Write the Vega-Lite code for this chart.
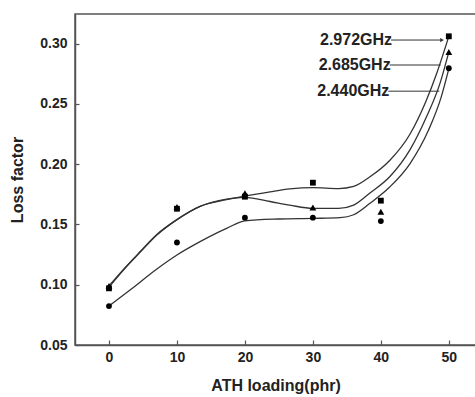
{
  "$schema": "https://vega.github.io/schema/vega-lite/v6.json",
  "width": 401,
  "height": 331,
  "autosize": {"type": "none"},
  "padding": {"left": 75, "top": 14, "right": 0, "bottom": 52},
  "background": "white",
  "config": {
    "view": {"stroke": "#555", "strokeWidth": 1.5},
    "axis": {
      "grid": false,
      "labelFont": "Liberation Sans",
      "labelFontWeight": "bold",
      "labelFontSize": 14,
      "labelColor": "#222",
      "titleFont": "Liberation Sans",
      "titleFontWeight": "bold",
      "titleFontSize": 16,
      "titleColor": "#222",
      "domainColor": "#555",
      "domainWidth": 1.5,
      "tickColor": "#555",
      "tickWidth": 1.2
    }
  },
  "datasets": {
    "curves": [
      {"series": "2.972GHz", "x": 0, "y": 0.098},
      {"series": "2.972GHz", "x": 2.1, "y": 0.112},
      {"series": "2.972GHz", "x": 4.6, "y": 0.127},
      {"series": "2.972GHz", "x": 7, "y": 0.141},
      {"series": "2.972GHz", "x": 10, "y": 0.154},
      {"series": "2.972GHz", "x": 13.4, "y": 0.165},
      {"series": "2.972GHz", "x": 17.3, "y": 0.1705},
      {"series": "2.972GHz", "x": 20, "y": 0.1735},
      {"series": "2.972GHz", "x": 23.7, "y": 0.177},
      {"series": "2.972GHz", "x": 26.6, "y": 0.1794},
      {"series": "2.972GHz", "x": 30, "y": 0.1805},
      {"series": "2.972GHz", "x": 33.8, "y": 0.1797},
      {"series": "2.972GHz", "x": 36, "y": 0.1815},
      {"series": "2.972GHz", "x": 38.4, "y": 0.1895},
      {"series": "2.972GHz", "x": 41.3, "y": 0.203},
      {"series": "2.972GHz", "x": 44.3, "y": 0.225},
      {"series": "2.972GHz", "x": 46.7, "y": 0.253},
      {"series": "2.972GHz", "x": 48.2, "y": 0.275},
      {"series": "2.972GHz", "x": 50, "y": 0.306},
      {"series": "2.685GHz", "x": 0, "y": 0.099},
      {"series": "2.685GHz", "x": 2.1, "y": 0.1125},
      {"series": "2.685GHz", "x": 4.6, "y": 0.1275},
      {"series": "2.685GHz", "x": 7, "y": 0.1415},
      {"series": "2.685GHz", "x": 10, "y": 0.154},
      {"series": "2.685GHz", "x": 13.4, "y": 0.165},
      {"series": "2.685GHz", "x": 17.3, "y": 0.171},
      {"series": "2.685GHz", "x": 20, "y": 0.1725},
      {"series": "2.685GHz", "x": 23.7, "y": 0.169},
      {"series": "2.685GHz", "x": 26.6, "y": 0.166},
      {"series": "2.685GHz", "x": 30, "y": 0.1633},
      {"series": "2.685GHz", "x": 33.8, "y": 0.1633},
      {"series": "2.685GHz", "x": 36, "y": 0.166},
      {"series": "2.685GHz", "x": 38.4, "y": 0.176},
      {"series": "2.685GHz", "x": 41.3, "y": 0.1895},
      {"series": "2.685GHz", "x": 44.3, "y": 0.212},
      {"series": "2.685GHz", "x": 46.7, "y": 0.239},
      {"series": "2.685GHz", "x": 48.7, "y": 0.267},
      {"series": "2.685GHz", "x": 50, "y": 0.293},
      {"series": "2.440GHz", "x": 0, "y": 0.0823},
      {"series": "2.440GHz", "x": 3.1, "y": 0.0956},
      {"series": "2.440GHz", "x": 7, "y": 0.1128},
      {"series": "2.440GHz", "x": 10, "y": 0.1246},
      {"series": "2.440GHz", "x": 13.4, "y": 0.1357},
      {"series": "2.440GHz", "x": 17.3, "y": 0.1467},
      {"series": "2.440GHz", "x": 20, "y": 0.153},
      {"series": "2.440GHz", "x": 25, "y": 0.1545},
      {"series": "2.440GHz", "x": 30, "y": 0.155},
      {"series": "2.440GHz", "x": 34, "y": 0.1556},
      {"series": "2.440GHz", "x": 36, "y": 0.158},
      {"series": "2.440GHz", "x": 38.4, "y": 0.1675},
      {"series": "2.440GHz", "x": 41.3, "y": 0.181},
      {"series": "2.440GHz", "x": 44.3, "y": 0.2005},
      {"series": "2.440GHz", "x": 47, "y": 0.228},
      {"series": "2.440GHz", "x": 48.9, "y": 0.256},
      {"series": "2.440GHz", "x": 50, "y": 0.279}
    ],
    "points": [
      {"series": "2.972GHz", "x": 0, "y": 0.097},
      {"series": "2.972GHz", "x": 10, "y": 0.163},
      {"series": "2.972GHz", "x": 20, "y": 0.173},
      {"series": "2.972GHz", "x": 30, "y": 0.1846},
      {"series": "2.972GHz", "x": 40, "y": 0.1697},
      {"series": "2.972GHz", "x": 50, "y": 0.306},
      {"series": "2.685GHz", "x": 0, "y": 0.099},
      {"series": "2.685GHz", "x": 10, "y": 0.1645},
      {"series": "2.685GHz", "x": 20, "y": 0.176},
      {"series": "2.685GHz", "x": 30, "y": 0.164},
      {"series": "2.685GHz", "x": 40, "y": 0.1605},
      {"series": "2.685GHz", "x": 50, "y": 0.293},
      {"series": "2.440GHz", "x": 0, "y": 0.0823},
      {"series": "2.440GHz", "x": 10, "y": 0.135},
      {"series": "2.440GHz", "x": 20, "y": 0.1556},
      {"series": "2.440GHz", "x": 30, "y": 0.1556},
      {"series": "2.440GHz", "x": 40, "y": 0.1528},
      {"series": "2.440GHz", "x": 50, "y": 0.2795}
    ],
    "labels": [
      {"series": "2.972GHz", "x": 41.5, "x2": 49.0, "y": 0.3029, "arrow": true},
      {"series": "2.685GHz", "x": 41.3, "x2": 48.8, "y": 0.2822, "arrow": false},
      {"series": "2.440GHz", "x": 41.1, "x2": 48.6, "y": 0.2605, "arrow": false}
    ]
  },
  "layer": [
    {
      "data": {"name": "curves"},
      "mark": {"type": "line", "interpolate": "monotone", "color": "#333", "strokeWidth": 1.3},
      "encoding": {
        "x": {"field": "x", "type": "quantitative", "scale": {"domain": [-5, 54], "nice": false, "zero": false},
              "axis": {"values": [0, 10, 20, 30, 40, 50], "title": "ATH loading(phr)", "tickSize": -5, "labelPadding": 10, "titlePadding": 13}},
        "y": {"field": "y", "type": "quantitative", "scale": {"domain": [0.05, 0.3245], "nice": false, "zero": false},
              "axis": {"values": [0.05, 0.1, 0.15, 0.2, 0.25, 0.3], "format": ".2f", "title": "Loss factor", "tickSize": -4, "labelPadding": 12, "titlePadding": 14}},
        "detail": {"field": "series"}
      }
    },
    {
      "data": {"name": "points"},
      "mark": {"type": "point", "filled": true, "opacity": 1, "color": "#000"},
      "encoding": {
        "x": {"field": "x", "type": "quantitative"},
        "y": {"field": "y", "type": "quantitative"},
        "shape": {"field": "series", "type": "nominal",
                  "scale": {"domain": ["2.972GHz", "2.685GHz", "2.440GHz"], "range": ["square", "triangle-up", "circle"]},
                  "legend": null},
        "size": {"condition": {"test": "datum.series === '2.685GHz'", "value": 46}, "value": 34}
      }
    },
    {
      "data": {"name": "labels"},
      "mark": {"type": "rule", "color": "#333", "strokeWidth": 1},
      "encoding": {
        "x": {"field": "x", "type": "quantitative"},
        "x2": {"field": "x2"},
        "y": {"field": "y", "type": "quantitative"}
      }
    },
    {
      "data": {"name": "labels"},
      "transform": [{"filter": "datum.arrow"}],
      "mark": {"type": "point", "shape": "triangle-right", "filled": true, "color": "#333", "size": 18, "opacity": 1},
      "encoding": {
        "x": {"field": "x2", "type": "quantitative"},
        "y": {"field": "y", "type": "quantitative"}
      }
    },
    {
      "data": {"name": "labels"},
      "mark": {"type": "text", "align": "right", "baseline": "middle", "font": "Liberation Sans", "fontWeight": "bold", "fontSize": 16, "color": "#222", "dx": 1},
      "encoding": {
        "x": {"field": "x", "type": "quantitative"},
        "y": {"field": "y", "type": "quantitative"},
        "text": {"field": "series"}
      }
    }
  ]
}
